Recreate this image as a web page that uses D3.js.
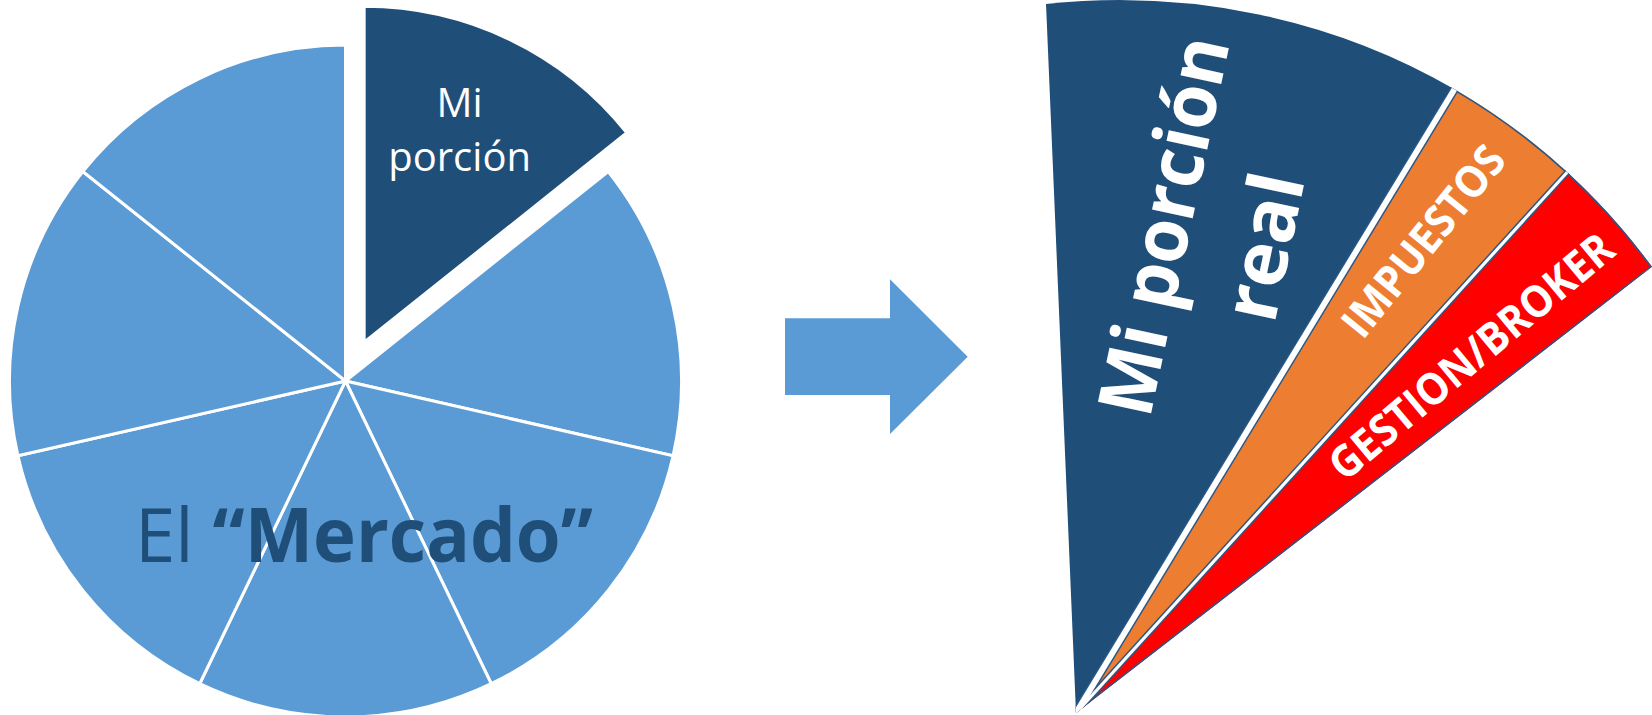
<!DOCTYPE html>
<html>
<head>
<meta charset="utf-8">
<script src="https://cdn.jsdelivr.net/npm/d3@7"></script>
<style>
  html, body { margin: 0; padding: 0; background: #fff; }
  svg { display: block; font-family: "Open Sans", "Noto Sans", sans-serif; }
</style>
</head>
<body>
<div id="chart"></div>
<script>
// left pie: the whole market in seven equal parts, the first one is mine
const marketLabels = ['Mi porción', 'm2', 'm3', 'm4', 'm5', 'm6', 'm7'];
const marketValues = [1, 1, 1, 1, 1, 1, 1];
const marketTitle = ['El ', '“Mercado”'];

// right fan: my slice split after costs (angular share, degrees)
const fanLabels = [['Mi porción', 'real'], ['IMPUESTOS'], ['GESTION/BROKER']];
const fanValues = [34.9, 11.7, 10.6];

const width = 1652, height = 715;
const deg = Math.PI / 180;
const lightBlue = '#5B9BD5', darkBlue = '#1F4E79', outline = '#2A5785';
const fanColors = [darkBlue, '#ED7D31', '#FF0000'];

const svg = d3.select('#chart').append('svg')
    .attr('width', width)
    .attr('height', height);

// ---- left pie
const mkt = { cx: 345.5, cy: 381, r: 336, explode: 43 };
const mktArc = d3.arc().innerRadius(0).outerRadius(mkt.r);
const mktData = d3.pie().sort(null)(marketValues);

const left = svg.append('g').attr('transform', `translate(${mkt.cx},${mkt.cy})`);

left.selectAll('path')
    .data(mktData)
    .enter()
    .append('path')
    .attr('d', mktArc)
    .attr('transform', function(d, i) {
        if (i !== 0) return null;
        let a = (d.startAngle + d.endAngle) / 2;
        return `translate(${mkt.explode * Math.sin(a)},${-mkt.explode * Math.cos(a)})`;
    })
    .attr('fill', function(d, i) { return i === 0 ? darkBlue : lightBlue; })
    .attr('stroke', '#fff')
    .attr('stroke-width', 3);

// label of my slice
let mine = mktData[0];
let midA = (mine.startAngle + mine.endAngle) / 2;
let lr = mkt.explode + 220;
left.append('text')
    .attr('x', lr * Math.sin(midA))
    .attr('y', -lr * Math.cos(midA))
    .attr('text-anchor', 'middle')
    .attr('fill', '#fff')
    .attr('font-size', 40)
    .selectAll('tspan')
    .data(marketLabels[0].split(' '))
    .enter()
    .append('tspan')
    .attr('x', lr * Math.sin(midA))
    .attr('dy', function(d, i) { return i === 0 ? -26.7 : 53.4; })
    .text(function(d) { return d; });

const title = svg.append('text')
    .attr('x', 135)
    .attr('y', 561.7)
    .attr('font-size', 75)
    .attr('fill', darkBlue)
    .attr('textLength', 458)
    .attr('lengthAdjust', 'spacingAndGlyphs');
title.append('tspan').text(marketTitle[0]);
title.append('tspan').attr('font-weight', 'bold').text(marketTitle[1]);

// ---- arrow
const arrow = { x0: 785, x1: 890, x2: 967.7, yt: 318.3, yb: 395, ht: 279.3, hb: 434 };
let ym = (arrow.ht + arrow.hb) / 2;
svg.append('path')
    .attr('d', d3.line()([
        [arrow.x0, arrow.yt], [arrow.x1, arrow.yt], [arrow.x1, arrow.ht], [arrow.x2, ym],
        [arrow.x1, arrow.hb], [arrow.x1, arrow.yb], [arrow.x0, arrow.yb]
    ]) + 'Z')
    .attr('fill', lightBlue);

// ---- right fan (slightly elliptical, like the stretched original shape)
const fanR = 700;
const fanArc = d3.arc().innerRadius(0).outerRadius(fanR);
const fanStart = -4.2 * deg, fanEnd = (-4.2 + d3.sum(fanValues)) * deg;
const fanData = d3.pie().sort(null).startAngle(fanStart).endAngle(fanEnd)(fanValues);

const fan = svg.append('g')
    .attr('transform', 'translate(1076,713) rotate(39.9) scale(0.9809,1.0439) rotate(-39.9)');

// keep the outlines inside the fan
svg.append('defs').append('clipPath')
    .attr('id', 'fan-clip')
    .append('path')
    .attr('d', fanArc({ startAngle: fanStart, endAngle: fanEnd }));

fan.selectAll('path.fill')
    .data(fanData)
    .enter()
    .append('path')
    .attr('class', 'fill')
    .attr('d', fanArc)
    .attr('fill', function(d, i) { return fanColors[i]; });

const inner = fan.append('g').attr('clip-path', 'url(#fan-clip)');

// thin outline of the cost slices
inner.selectAll('path.edge')
    .data(fanData.slice(1))
    .enter()
    .append('path')
    .attr('class', 'edge')
    .attr('d', fanArc)
    .attr('fill', 'none')
    .attr('stroke', outline)
    .attr('stroke-width', 3);

// white gaps between slices, each with an outline on both sides
const gaps = [[fanData[0].endAngle, 3], [fanData[1].endAngle, 1.6]];
const gapLine = function(g) {
    return d3.line()([[0, 0], [(fanR + 20) * Math.sin(g[0]), -(fanR + 20) * Math.cos(g[0])]]);
};
inner.selectAll('path.gapline')
    .data(gaps)
    .enter()
    .append('path')
    .attr('class', 'gapline')
    .attr('d', gapLine)
    .attr('stroke', outline)
    .attr('stroke-width', function(g) { return 2 * g[1] + 3; });
inner.selectAll('path.gap')
    .data(gaps)
    .enter()
    .append('path')
    .attr('class', 'gap')
    .attr('d', gapLine)
    .attr('stroke', '#fff')
    .attr('stroke-width', function(g) { return 2 * g[1]; });

// fan labels (screen position, rotation, font size, length)
const fanText = [
    { x: 1213, y: 236, rot: -78, size: 76, gap: 102, len: [385, null] },
    { x: 1423, y: 241, rot: -51, size: 44, gap: 0, len: [231] },
    { x: 1471, y: 356, rot: -40, size: 44, gap: 0, len: [356] }
];

fanText.forEach(function(t, i) {
    let lines = fanLabels[i];
    let g = svg.append('g').attr('transform', `translate(${t.x},${t.y}) rotate(${t.rot})`);
    g.selectAll('text')
        .data(lines)
        .enter()
        .append('text')
        .attr('x', 0)
        .attr('y', function(d, j) { return (j - (lines.length - 1) / 2) * t.gap + t.size * 0.36; })
        .attr('text-anchor', 'middle')
        .attr('font-weight', 'bold')
        .attr('font-size', t.size)
        .attr('fill', '#fff')
        .attr('textLength', function(d, j) { return t.len[j]; })
        .attr('lengthAdjust', 'spacingAndGlyphs')
        .text(function(d) { return d; });
});
</script>
</body>
</html>
